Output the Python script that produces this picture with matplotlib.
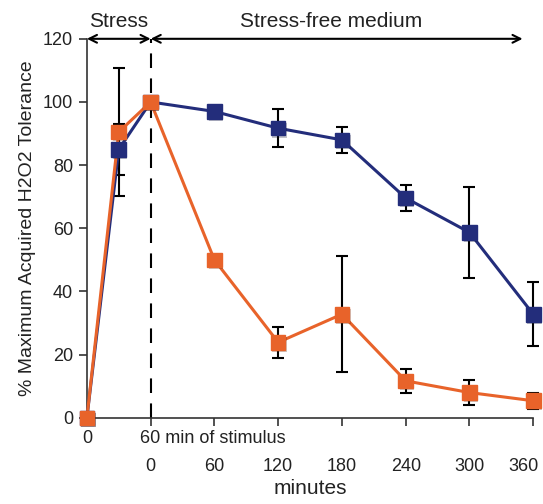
import matplotlib.pyplot as plt
import matplotlib.patheffects as pe
from matplotlib.transforms import ScaledTranslation

plt.rcParams["font.family"] = ["Liberation Sans", "DejaVu Sans"]

# minutes on one scale: 0-60 stimulus, then 60-420 stress-free
time = [0, 30, 60, 120, 180, 240, 300, 360, 420]
blue = [0, 85, 100, 97, 91.7, 88, 69.6, 58.7, 32.8]
blue_err = [0, 8, 0, 0, 6, 4, 4.1, 14.5, 10.2]
orange = [0, 90.5, 100, 50, 23.9, 32.8, 11.7, 8, 5.4]
orange_err = [0, 20.3, 0, 0, 4.9, 18.3, 3.8, 4, 2.5]

tick_pos = [0, 60, 120, 180, 240, 300, 360, 420]
row2_labels = ["", "0", "60", "120", "180", "240", "300", "360"]
yticks = [0, 20, 40, 60, 80, 100, 120]

blue_c = "#232d7b"
orange_c = "#e8632a"
txt_c = "#222222"

fig = plt.figure(figsize=(5.43, 5.04), dpi=100)
ax = fig.add_axes([0.160, 0.171, 0.822, 0.752])

shadow = [pe.SimplePatchShadow(offset=(1, -1.5), alpha=0.25), pe.Normal()]

for y, e, c in [(blue, blue_err, blue_c), (orange, orange_err, orange_c)]:
    ax.errorbar(time, y, yerr=e, fmt="none", ecolor="black", elinewidth=1.5,
                capsize=4, capthick=1.5, zorder=2, clip_on=False)
    ax.plot(time, y, color=c, lw=2.2, zorder=3, clip_on=False)
    ax.plot(time, y, color=c, ls="none", marker="s", ms=10.5, zorder=4,
            clip_on=False, path_effects=shadow)

ax.set_xlim(0, 420)
ax.set_ylim(0, 120)
ax.set_yticks(yticks)
ax.set_xticks(tick_pos)
ax.set_xticklabels(row2_labels)
ax.tick_params(axis="both", labelsize=13, width=1.2, length=6, color="#333333",
               labelcolor=txt_c)
ax.tick_params(axis="x", pad=23)
ax.tick_params(axis="y", pad=4)
last = ax.get_xticklabels()[-1]
last.set_transform(last.get_transform() + ScaledTranslation(-7 / 72, 0, fig.dpi_scale_trans))
for s in ["top", "right"]:
    ax.spines[s].set_visible(False)
for s in ["left", "bottom"]:
    ax.spines[s].set_linewidth(1.2)
    ax.spines[s].set_color("#333333")

# first row of x labels
ax.annotate("0", xy=(0, 0), xycoords=("data", "axes fraction"), xytext=(0, -9),
            textcoords="offset points", ha="center", va="top", fontsize=13,
            color=txt_c, annotation_clip=False)
ax.annotate("60 min of stimulus", xy=(60, 0), xycoords=("data", "axes fraction"),
            xytext=(-7.5, -9), textcoords="offset points", ha="left", va="top",
            fontsize=13, color=txt_c, annotation_clip=False)

ax.set_xlabel("minutes", fontsize=15, color=txt_c, labelpad=3)
ax.set_ylabel("% Maximum Acquired H2O2 Tolerance", fontsize=14, color=txt_c,
              labelpad=5)

# stress period marker
ax.plot([60, 60], [0, 120], color="black", lw=1.5, ls=(0, (7, 5)), zorder=1,
        clip_on=False)
arrow = dict(arrowstyle="<->", color="black", lw=1.5, mutation_scale=14,
             shrinkA=0, shrinkB=0)
ax.annotate("", xy=(0, 120), xytext=(60, 120), arrowprops=arrow, annotation_clip=False)
ax.annotate("", xy=(60, 120), xytext=(410, 120), arrowprops=arrow, annotation_clip=False)
ax.text(30, 122.5, "Stress", ha="center", va="bottom", fontsize=15, color=txt_c)
ax.text(230, 122.5, "Stress-free medium", ha="center", va="bottom", fontsize=15,
        color=txt_c)

fig.savefig("out.png", dpi=100)
